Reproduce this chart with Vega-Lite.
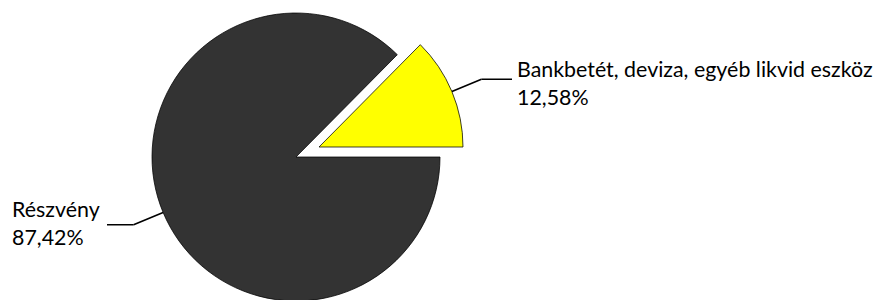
{
  "$schema": "https://vega.github.io/schema/vega-lite/v6.json",
  "width": 592,
  "height": 294,
  "autosize": {"type": "none"},
  "padding": {"left": 0, "top": 10, "right": 284, "bottom": 0},
  "background": "white",
  "view": {"stroke": null},
  "config": {"font": "Lato"},
  "data": {
    "values": [
      {"category": "Részvény", "value": 87.42, "label": "87,42%"},
      {"category": "Bankbetét, deviza, egyéb likvid eszköz", "value": 12.58, "label": "12,58%"}
    ]
  },
  "transform": [
    {"stack": "value", "groupby": [], "as": ["v0", "v1"]},
    {"fold": ["v0", "v1"], "as": ["k", "edge"]},
    {"joinaggregate": [{"op": "mean", "field": "edge", "as": "mid"}], "groupby": ["category"]},
    {"filter": {"field": "k", "equal": "v0"}}
  ],
  "layer": [
    {
      "transform": [{"filter": {"field": "category", "equal": "Részvény"}}],
      "mark": {"type": "arc", "outerRadius": 144, "stroke": "#000000", "strokeWidth": 0.75},
      "encoding": {
        "theta": {"field": "v0", "type": "quantitative", "scale": {"domain": [0, 100], "range": [1.5707963, 7.8539816]}},
        "theta2": {"field": "v1"},
        "color": {"field": "category", "type": "nominal", "scale": {"domain": ["Részvény", "Bankbetét, deviza, egyéb likvid eszköz"], "range": ["#333333", "#ffff00"]}, "legend": null}
      }
    },
    {
      "transform": [{"filter": {"field": "category", "equal": "Bankbetét, deviza, egyéb likvid eszköz"}}],
      "mark": {"type": "arc", "outerRadius": 144, "stroke": "#000000", "strokeWidth": 0.75, "xOffset": 23, "yOffset": -10},
      "encoding": {
        "theta": {"field": "v0", "type": "quantitative", "scale": {"domain": [0, 100], "range": [1.5707963, 7.8539816]}},
        "theta2": {"field": "v1"},
        "color": {"field": "category", "type": "nominal", "scale": {"domain": ["Részvény", "Bankbetét, deviza, egyéb likvid eszköz"], "range": ["#333333", "#ffff00"]}, "legend": null}
      }
    },
    {
      "transform": [{"filter": {"field": "category", "equal": "Részvény"}}],
      "mark": {"type": "arc", "innerRadius": 144, "outerRadius": 176, "stroke": "#000000", "strokeWidth": 1.6, "fillOpacity": 0},
      "encoding": {
        "theta": {"field": "mid", "type": "quantitative", "scale": {"domain": [0, 100], "range": [1.5707963, 7.8539816]}},
        "theta2": {"field": "mid"}
      }
    },
    {
      "transform": [{"filter": {"field": "category", "equal": "Bankbetét, deviza, egyéb likvid eszköz"}}],
      "mark": {"type": "arc", "innerRadius": 144, "outerRadius": 176, "stroke": "#000000", "strokeWidth": 1.6, "fillOpacity": 0, "xOffset": 23, "yOffset": -10},
      "encoding": {
        "theta": {"field": "mid", "type": "quantitative", "scale": {"domain": [0, 100], "range": [1.5707963, 7.8539816]}},
        "theta2": {"field": "mid"}
      }
    },
    {
      "transform": [{"filter": {"field": "category", "equal": "Részvény"}}],
      "mark": {"type": "arc", "innerRadius": 162.4, "outerRadius": 189, "stroke": "#000000", "strokeWidth": 1.6, "fillOpacity": 0, "yOffset": 67.8},
      "encoding": {
        "theta": {"datum": 50, "type": "quantitative", "scale": {"domain": [0, 100], "range": [1.5707963, 7.8539816]}},
        "theta2": {"datum": 50}
      }
    },
    {
      "transform": [{"filter": {"field": "category", "equal": "Bankbetét, deviza, egyéb likvid eszköz"}}],
      "mark": {"type": "arc", "innerRadius": 185.4, "outerRadius": 216, "stroke": "#000000", "strokeWidth": 1.6, "fillOpacity": 0, "yOffset": -77.8},
      "encoding": {
        "theta": {"datum": 0, "type": "quantitative", "scale": {"domain": [0, 100], "range": [1.5707963, 7.8539816]}},
        "theta2": {"datum": 0}
      }
    },
    {
      "transform": [{"filter": {"field": "category", "equal": "Részvény"}}],
      "mark": {"type": "text", "radius": 204, "align": "left", "baseline": "alphabetic", "dx": -95.7, "dy": -18.6, "fontSize": 21.4, "color": "#000000"},
      "encoding": {
        "theta": {"field": "mid", "type": "quantitative", "scale": {"domain": [0, 100], "range": [1.5707963, 7.8539816]}},
        "text": {"field": "category"}
      }
    },
    {
      "transform": [{"filter": {"field": "category", "equal": "Részvény"}}],
      "mark": {"type": "text", "radius": 204, "align": "left", "baseline": "alphabetic", "dx": -95.7, "dy": 9.4, "fontSize": 21.4, "color": "#000000"},
      "encoding": {
        "theta": {"field": "mid", "type": "quantitative", "scale": {"domain": [0, 100], "range": [1.5707963, 7.8539816]}},
        "text": {"field": "label"}
      }
    },
    {
      "transform": [{"filter": {"field": "category", "equal": "Bankbetét, deviza, egyéb likvid eszköz"}}],
      "mark": {"type": "text", "radius": 204, "align": "left", "baseline": "alphabetic", "dx": 32.7, "dy": -1.4, "fontSize": 21.4, "color": "#000000"},
      "encoding": {
        "theta": {"field": "mid", "type": "quantitative", "scale": {"domain": [0, 100], "range": [1.5707963, 7.8539816]}},
        "text": {"field": "category"}
      }
    },
    {
      "transform": [{"filter": {"field": "category", "equal": "Bankbetét, deviza, egyéb likvid eszköz"}}],
      "mark": {"type": "text", "radius": 204, "align": "left", "baseline": "alphabetic", "dx": 32.7, "dy": 26.6, "fontSize": 21.4, "color": "#000000"},
      "encoding": {
        "theta": {"field": "mid", "type": "quantitative", "scale": {"domain": [0, 100], "range": [1.5707963, 7.8539816]}},
        "text": {"field": "label"}
      }
    }
  ]
}
